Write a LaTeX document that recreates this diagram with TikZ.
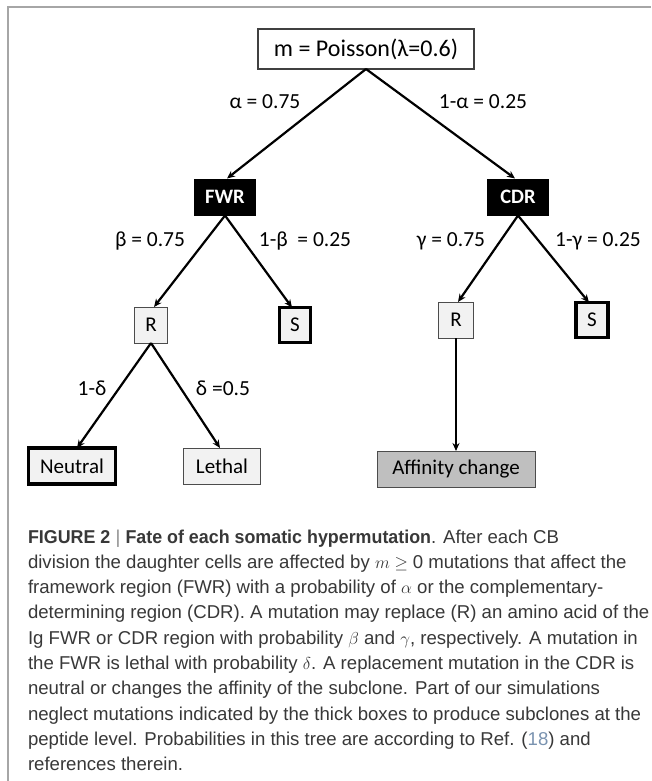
\documentclass[tikz,border=0pt]{standalone}
\usepackage{fontspec}
\usetikzlibrary{arrows.meta}
\newfontfamily\diag{Carlito}
\newfontfamily\capf{Liberation Sans}
\definecolor{boxgray}{HTML}{F2F2F2}
\definecolor{affgray}{HTML}{BFBFBF}
\definecolor{framegray}{HTML}{A6A6A6}
\definecolor{captext}{HTML}{383838}
\definecolor{reflink}{HTML}{7A93B0}
\newcommand{\boldnarrow}[1]{\scalebox{0.96}[1]{\bfseries #1}}
\begin{document}
\begin{tikzpicture}[x=1pt,y=-1pt,
  every node/.style={inner sep=0pt, outer sep=0pt},
  arr/.style={line width=2.2pt, -{Stealth[length=8pt,width=7pt]}},
  dfont/.style={font=\diag\fontsize{21}{21}\selectfont},
  thinbox/.style={dfont, draw=black!70, line width=1pt, fill=boxgray},
  thickbox/.style={dfont, draw=black, line width=3.3pt, fill=boxgray},
  affbox/.style={dfont, draw=black!70, line width=1pt, fill=affgray},
  region/.style={fill=black, text=white, font=\diag\bfseries\fontsize{20.5}{20.5}\selectfont, minimum width=62pt, minimum height=37pt},
  prob/.style={font=\diag\fontsize{21.5}{21.5}\selectfont},
  capline/.style={anchor=base west, font=\capf\fontsize{18.6}{18.6}\selectfont, text=captext}
]
\useasboundingbox (0,0) rectangle (651,781);
\fill[white] (0,0) rectangle (651,781);
\draw[framegray, line width=1.5pt] (8,781) -- (8,7) -- (651,7);

% tree nodes
\node[draw=black!75, line width=1.2pt, fill=white, minimum width=216pt, minimum height=40pt,
      font=\diag\fontsize{24}{24}\selectfont] (top) at (366,49) {m = Poisson(λ=0.6)};
\node[region] (fwr) at (225,197) {FWR};
\node[region] (cdr) at (518,197) {CDR};
\node[thinbox, minimum width=33pt, minimum height=36pt] (rl) at (151,325) {R};
\node[thickbox, minimum width=31pt, minimum height=35pt] (sl) at (295,325) {S};
\node[thinbox, minimum width=35pt, minimum height=36pt] (rr) at (456,320) {R};
\node[thickbox, minimum width=32pt, minimum height=35pt] (sr) at (592,320) {S};
\node[thickbox, minimum width=87pt, minimum height=36pt] (neu) at (72,466) {Neutral};
\node[thinbox, minimum width=77pt, minimum height=36pt] (let) at (222,466) {Lethal};
\node[affbox, minimum width=158pt, minimum height=36pt] (aff) at (456,469) {Affinity change};

% connectors
\draw[arr] (top.south) -- ([xshift=2pt]fwr.north);
\draw[arr] (top.south) -- ([xshift=-3pt]cdr.north);
\draw[arr] (fwr.south) -- ([xshift=3pt]rl.north);
\draw[arr] (fwr.south) -- ([xshift=-3pt]sl.north);
\draw[arr] (cdr.south) -- ([xshift=2pt]rr.north);
\draw[arr] (cdr.south) -- ([xshift=-3pt]sr.north);
\draw[arr] (rl.south) -- ([xshift=5pt]neu.north);
\draw[arr] (rl.south) -- ([xshift=-2pt]let.north);
\draw[arr] (rr.south) -- (aff.north);

% probability labels
\node[prob] (la) at (265,102) {α = 0.75};
\node[prob] (lna) at (483,102) {1-α = 0.25};
\node[prob] (lb) at (150,241) {β = 0.75};
\node[prob] (lnb) at (305,241) {1-β \ = 0.25};
\node[prob] (lg) at (451,241) {γ = 0.75};
\node[prob] (lng) at (598,241) {1-γ = 0.25};
\node[prob] (lnd) at (92,388) {1-δ};
\node[prob] (ld) at (223,388) {δ =0.5};

% caption
\node[capline] (c1) at (28,543) {\boldnarrow{FIGURE 2} {\color{black!45}|} \boldnarrow{Fate of each somatic hypermutation}. After each CB};
\node[capline] (c2) at (28,568.3) {division the daughter cells are affected by $m\geq{}$0 mutations that affect the};
\node[capline] (c3) at (28,593.6) {framework region (FWR) with a probability of $\alpha$ or the complementary-};
\node[capline] (c4) at (28,618.9) {determining region (CDR). A mutation may replace (R) an amino acid of the};
\node[capline] (c5) at (28,644.2) {Ig FWR or CDR region with probability $\beta$ and $\gamma$, respectively. A mutation in};
\node[capline] (c6) at (28,669.5) {the FWR is lethal with probability $\delta$. A replacement mutation in the CDR is};
\node[capline] (c7) at (28,694.8) {neutral or changes the affinity of the subclone. Part of our simulations};
\node[capline] (c8) at (28,720.1) {neglect mutations indicated by the thick boxes to produce subclones at the};
\node[capline] (c9) at (28,745.4) {peptide level. Probabilities in this tree are according to Ref. ({\color{reflink}18}) and};
\node[capline] (c10) at (28,770.7) {references therein.};
\end{tikzpicture}
\end{document}
